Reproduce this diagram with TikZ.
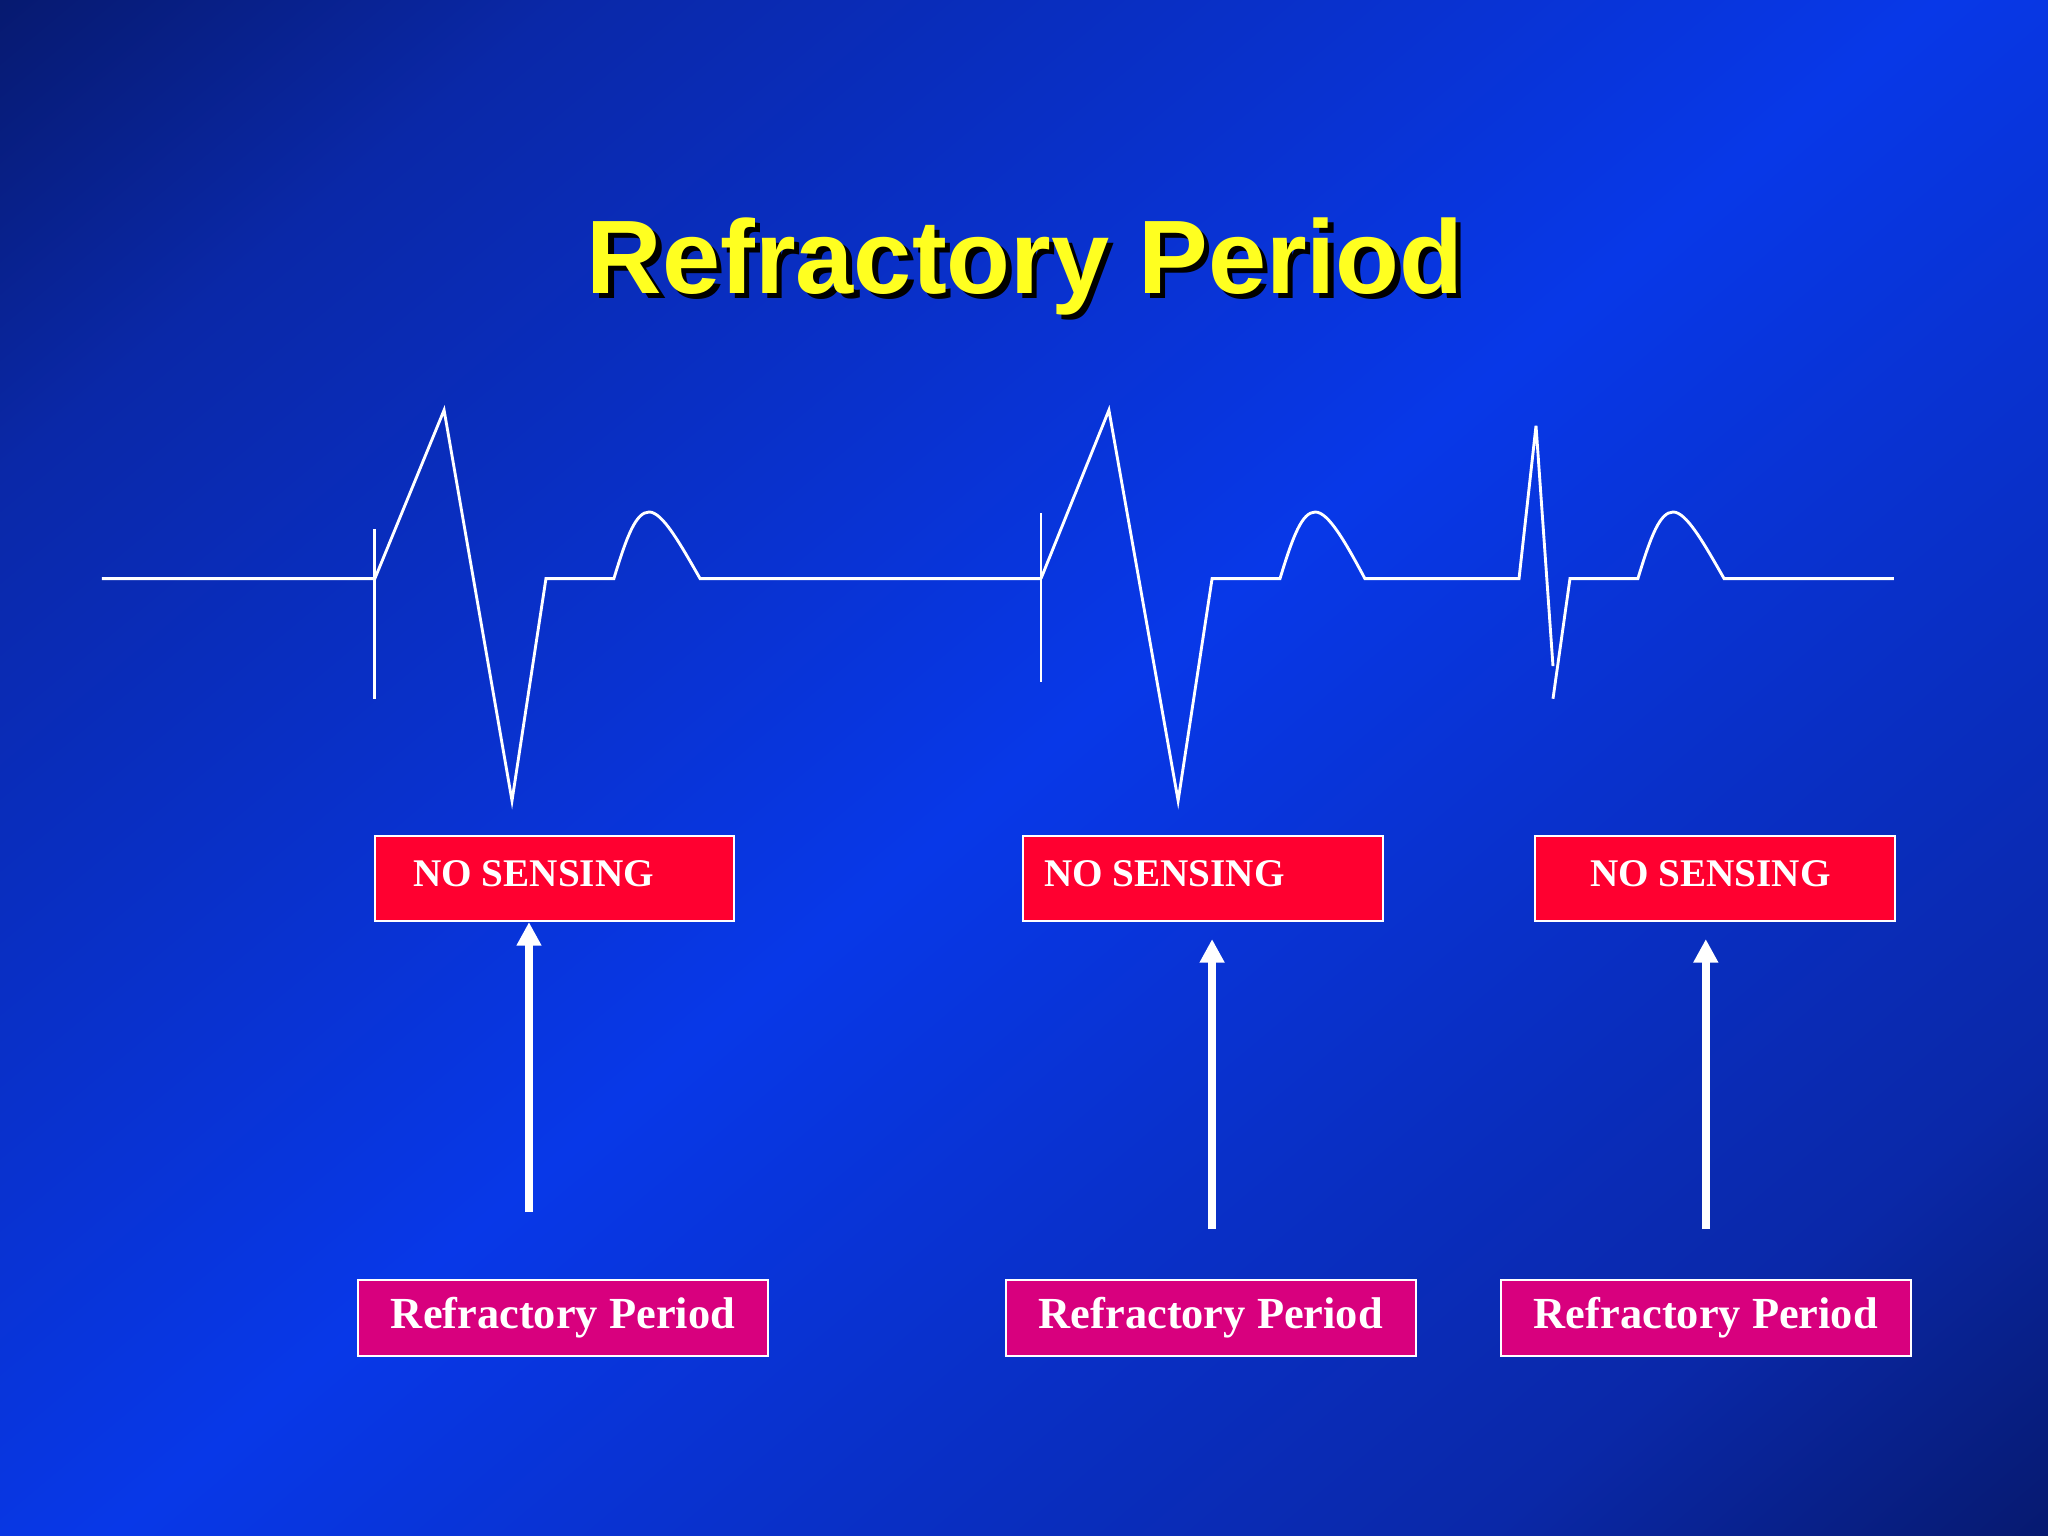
\documentclass[tikz,border=0pt]{standalone}
\usepackage{fontspec}
\setmainfont{Liberation Serif}
\newfontfamily\titlefont{Liberation Sans}
\usetikzlibrary{arrows.meta}
\definecolor{bgdark}{HTML}{010520}
\definecolor{bgmid}{HTML}{0A28A8}
\definecolor{bgbright}{HTML}{0838E8}
\definecolor{nsred}{HTML}{FF0030}
\definecolor{rpmag}{HTML}{D8007E}
\definecolor{ttl}{HTML}{FFFF20}
\pgfdeclarehorizontalshading{bgshade}{100bp}{color(0bp)=(bgdark); color(25bp)=(bgmid); color(50bp)=(bgbright); color(75bp)=(bgmid); color(100bp)=(bgdark)}
\begin{document}
\begin{tikzpicture}[x=0.5pt,y=-0.5pt,
  ecg/.style={white,line width=1.1pt,line join=miter},
  nsbox/.style={draw=white,line width=0.8pt,fill=nsred,minimum width=137.5pt,minimum height=32.5pt,inner sep=0pt},
  nstext/.style={anchor=west,text=white,font=\bfseries\fontsize{15}{17}\selectfont,inner sep=0pt},
  rpbox/.style={draw=white,line width=0.8pt,fill=rpmag,text=white,font=\bfseries\fontsize{17}{19}\selectfont,minimum width=157pt,minimum height=29pt,inner sep=0pt},
  uparrow/.style={white,line width=3pt,-{Triangle[length=9pt,width=9pt]}}]
\useasboundingbox (0,0) rectangle (1568,1176);
\shade[shading=bgshade,shading angle=-50] (0,0) rectangle (1568,1176);
% title
\node[font=\titlefont\bfseries\fontsize{40}{45}\selectfont,text=black] at (789,208) {Refractory Period};
\node (title) [font=\titlefont\bfseries\fontsize{40}{45}\selectfont,text=ttl] at (785,204) {Refractory Period};
% ECG trace 1
\draw[ecg] (78,443) -- (287,443) -- (340,314) -- (392,613) -- (418,443) -- (470,443)
  .. controls (480,410) and (487,392) .. (497,392) .. controls (507,392) and (520,415) .. (536,443) -- (797,443);
\draw[ecg] (287,405) -- (287,535);
% ECG trace 2
\draw[ecg] (797,443) -- (849,314) -- (902,613) -- (928,443) -- (980,443)
  .. controls (990,410) and (997,392) .. (1007,392) .. controls (1017,392) and (1030,415) .. (1045,443) -- (1163,443) -- (1176,326) -- (1189,510);
\draw[ecg] (797,393) -- (797,522);
\draw[ecg] (1189,535) -- (1202,443) -- (1254,443)
  .. controls (1264,410) and (1271,392) .. (1281,392) .. controls (1291,392) and (1304,415) .. (1320,443) -- (1450,443);
% boxes
\node (ns1) [nsbox] at (424.5,672.5) {};
\node (ns2) [nsbox] at (921,672.5) {};
\node (ns3) [nsbox] at (1313,672.5) {};
\node (t1) [nstext] at (316,669) {NO SENSING};
\node (t2) [nstext] at (799,669) {NO SENSING};
\node (t3) [nstext] at (1217,669) {NO SENSING};
\node (rp1) [rpbox] at (431,1009) {Refractory Period};
\node (rp2) [rpbox] at (927,1009) {Refractory Period};
\node (rp3) [rpbox] at (1306,1009) {Refractory Period};
% arrows
\coordinate (a1) at (405,928); \coordinate (b1) at (405,706);
\coordinate (a2) at (928,941); \coordinate (b2) at (928,719);
\coordinate (a3) at (1306,941); \coordinate (b3) at (1306,719);
\draw[uparrow] (a1) -- (b1);
\draw[uparrow] (a2) -- (b2);
\draw[uparrow] (a3) -- (b3);
\end{tikzpicture}
\end{document}
